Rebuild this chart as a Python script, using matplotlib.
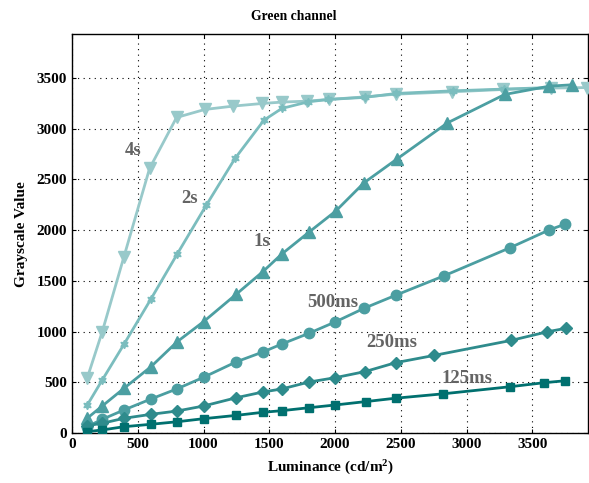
import numpy as np
import matplotlib
matplotlib.use('Agg')
import matplotlib.pyplot as plt

plt.rcParams['font.family'] = 'Liberation Serif'
plt.rcParams['font.weight'] = 'bold'
plt.rcParams['mathtext.fontset'] = 'custom'
plt.rcParams['mathtext.rm'] = 'Liberation Serif:bold'
plt.rcParams['mathtext.default'] = 'rm'

# luminance (cd/m^2) per exposure
x_4s = [115, 230, 395, 590, 795, 1010, 1225, 1445, 1600, 1785, 1955, 2225, 2465, 2890, 3280, 3640, 3915]
x_2s = [115, 230, 395, 600, 800, 1020, 1240, 1460, 1595, 1795, 1950, 2225, 2465, 2900, 3285, 3635]
x_1s = [115, 230, 395, 600, 800, 1000, 1250, 1450, 1595, 1805, 2005, 2220, 2470, 2855, 3290, 3630, 3800]
x_500 = [115, 230, 395, 600, 800, 1000, 1250, 1450, 1595, 1800, 2000, 2220, 2465, 2830, 3330, 3630, 3750]
x_250 = [115, 230, 395, 600, 800, 1000, 1250, 1450, 1595, 1800, 2000, 2230, 2460, 2750, 3340, 3615, 3755]
x_125 = [115, 230, 395, 600, 800, 1000, 1250, 1450, 1595, 1800, 2000, 2235, 2460, 2820, 3330, 3590, 3750]

# grayscale values
y_4s = [538, 998, 1737, 2608, 3110, 3189, 3222, 3248, 3262, 3271, 3288, 3313, 3340, 3363, 3386, 3400, 3405]
y_2s = [273, 522, 874, 1320, 1764, 2243, 2707, 3084, 3199, 3264, 3288, 3308, 3347, 3373, 3390, 3405]
y_1s = [145, 266, 440, 653, 900, 1097, 1369, 1589, 1764, 1983, 2187, 2466, 2700, 3057, 3337, 3419, 3432]
y_500 = [62, 135, 227, 335, 436, 549, 702, 798, 877, 982, 1094, 1229, 1360, 1550, 1826, 2003, 2059]
y_250 = [72, 96, 145, 184, 217, 266, 348, 404, 434, 502, 545, 606, 693, 764, 913, 998, 1032]
y_125 = [13, 30, 62, 86, 111, 141, 174, 204, 220, 249, 276, 310, 343, 386, 456, 496, 515]

labels = ['4s', '2s', '1s', '500ms', '250ms', '125ms']
label_pos = [(463, 2788), (896, 2315), (1443, 1892), (1983, 1291), (2431, 897), (3001, 542)]

fig = plt.figure(figsize=(5.89, 4.83), dpi=100)
ax = fig.add_axes([0.1222, 0.1035, 0.8765, 0.8255])

ax.plot(x_4s, y_4s, color='#98c9ca', lw=2.0, marker='v', ms=8.5, clip_on=False, zorder=3)
ax.plot(x_2s, y_2s, color='#7bbdbe', lw=2.0, marker=(6, 1, 0), ms=6, zorder=3)
ax.plot(x_1s, y_1s, color='#4c9fa2', lw=2.0, marker='^', ms=8.5, zorder=3)
ax.plot(x_500, y_500, color='#4b9ea1', lw=2.0, marker='o', ms=7.5, zorder=3)
ax.plot(x_250, y_250, color='#2e8b8c', lw=2.0, marker='D', ms=6.5, zorder=3)
ax.plot(x_125, y_125, color='#00706f', lw=2.0, marker='s', ms=5.5, zorder=3)

for lab, (lx, ly) in zip(labels, label_pos):
    ax.text(lx, ly, lab, color='#646464', fontsize=13.5, fontweight='bold',
            ha='center', va='center')

ax.set_xlim(0, 3925)
ax.set_ylim(0, 3930)
ax.set_xticks(np.arange(0, 3501, 500))
ax.set_yticks(np.arange(0, 3501, 500))
ax.tick_params(direction='in', top=True, right=True, labelsize=11, length=3)
ax.grid(True, linestyle=(0, (1, 4)), color='black', lw=0.8)
for s in ax.spines.values():
    s.set_linewidth(1.0)

fig.text(294 / 589, 1 - 16 / 483, 'Green channel', fontsize=9.8, fontweight='bold',
         ha='center', va='center')
ax.set_xlabel('Luminance (cd/m$^2$)', fontsize=11, fontweight='bold', labelpad=6)
ax.set_ylabel('Grayscale Value', fontsize=11, fontweight='bold', labelpad=6)

fig.savefig('out.png', dpi=100)
